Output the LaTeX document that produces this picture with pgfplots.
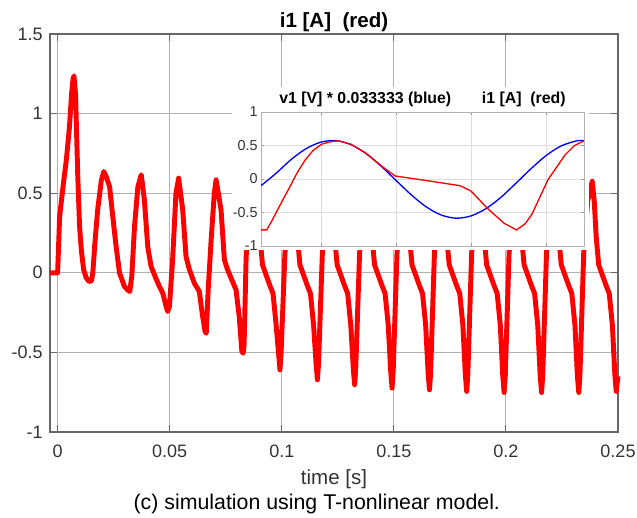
\documentclass[border=0pt]{standalone}
\usepackage{fontspec}
\setmainfont{Liberation Sans}
\usepackage{pgfplots}
\pgfplotsset{compat=1.18}
\definecolor{mred}{RGB}{255,0,0}
\definecolor{mblue}{RGB}{0,0,255}
\begin{document}
\begin{tikzpicture}
\useasboundingbox (0,0) rectangle (477.75pt,388.5pt);
\begin{axis}[
  at={(37.5pt,64.5pt)}, anchor=south west,
  scale only axis, width=426pt, height=298.5pt,
  xmin=-0.0034, xmax=0.25, ymin=-1, ymax=1.5,
  xtick={0,0.05,0.1,0.15,0.2,0.25}, xticklabels={0,0.05,0.1,0.15,0.2,0.25},
  ytick={-1,-0.5,0,0.5,1,1.5}, yticklabels={-1,-0.5,0,0.5,1,1.5},
  grid=major, major grid style={black!30, line width=0.8pt},
  axis line style={black!60, line width=0.8pt},
  tick style={black!60, line width=0.8pt}, tick align=inside, major tick length=5pt,
  ticklabel style={font=\fontsize{13.5}{16}\selectfont, text=black!80, inner sep=0pt},
  xticklabel style={anchor=base, yshift=-19.5pt},
  yticklabel style={anchor=east, xshift=-5.25pt},
  every axis title shift=0pt,
  title={i1 [A]\ \ (red)},
  title style={at={(axis description cs:0.5,1)}, anchor=base, yshift=5pt, inner sep=0pt, font=\bfseries\fontsize{15.4}{18}\selectfont},
  xlabel={time [s]},
  xlabel style={at={(axis description cs:0.5,0)}, anchor=base, yshift=-39.75pt, inner sep=0pt, font=\fontsize{15.4}{18}\selectfont, text=black!80},
  clip=false,
]
\addplot[mred, line width=3.7pt, line join=round] coordinates {
(-0.0034,0) (0.0000,0) (0.0009,0.354) (0.0024,0.54) (0.0039,0.71) (0.0053,0.92) (0.0062,1.12) (0.0069,1.22) (0.0073,1.237)
(0.0080,1.12) (0.0090,0.60) (0.0098,0.29) (0.0106,0.14) (0.0116,0.02) (0.0127,-0.03) (0.0140,-0.055) (0.0151,-0.05)
(0.0157,0.0) (0.0167,0.2) (0.0179,0.40) (0.0195,0.58) (0.0206,0.636)
(0.0218,0.60) (0.0232,0.54) (0.0246,0.354) (0.0261,0.165) (0.0276,0.0) (0.0298,-0.086) (0.0314,-0.11) (0.0322,-0.117)
(0.0331,-0.02) (0.0343,0.29) (0.0358,0.54) (0.0373,0.616)
(0.0387,0.46) (0.0402,0.165) (0.0417,0.04) (0.0432,-0.013) (0.0454,-0.086) (0.0469,-0.128) (0.0484,-0.21) (0.0491,-0.243)
(0.0499,-0.21) (0.0513,0.08) (0.0528,0.5) (0.0540,0.595)
(0.0558,0.396) (0.0573,0.1) (0.0588,0.02) (0.0610,-0.065) (0.0632,-0.117) (0.0647,-0.274) (0.0658,-0.37) (0.0663,-0.38)
(0.0672,-0.10) (0.0684,0.187) (0.0699,0.5) (0.0707,0.584)
(0.0729,0.396) (0.0744,0.082) (0.0758,0.02) (0.0796,-0.107) (0.0810,-0.274) (0.0822,-0.494) (0.0828,-0.505)
(0.0832,-0.45) (0.0841,0.1) (0.0855,0.4)
(0.0885,0.575) (0.0894,0.45) (0.0903,0.22) (0.0914,0.05) (0.0947,-0.08) (0.0961,-0.13) (0.0975,-0.33) (0.0986,-0.51) (0.0992,-0.61) (0.0997,-0.50) (0.1014,0.12) (0.1032,0.45)
(0.1052,0.575) (0.1061,0.45) (0.1070,0.22) (0.1081,0.05) (0.1114,-0.08) (0.1128,-0.13) (0.1142,-0.33) (0.1153,-0.57) (0.1159,-0.672) (0.1164,-0.57) (0.1181,0.12) (0.1199,0.45)
(0.1218,0.575) (0.1227,0.45) (0.1236,0.22) (0.1247,0.05) (0.1280,-0.08) (0.1294,-0.13) (0.1308,-0.33) (0.1319,-0.60) (0.1325,-0.703) (0.1330,-0.60) (0.1347,0.12) (0.1365,0.45)
(0.1385,0.575) (0.1394,0.45) (0.1403,0.22) (0.1414,0.05) (0.1447,-0.08) (0.1461,-0.13) (0.1475,-0.33) (0.1486,-0.62) (0.1492,-0.724) (0.1497,-0.62) (0.1514,0.12) (0.1532,0.45)
(0.1552,0.575) (0.1561,0.45) (0.1570,0.22) (0.1581,0.05) (0.1614,-0.08) (0.1628,-0.13) (0.1642,-0.33) (0.1653,-0.63) (0.1659,-0.735) (0.1664,-0.63) (0.1681,0.12) (0.1699,0.45)
(0.1718,0.575) (0.1727,0.45) (0.1736,0.22) (0.1747,0.05) (0.1780,-0.08) (0.1794,-0.13) (0.1808,-0.33) (0.1819,-0.64) (0.1825,-0.745) (0.1830,-0.64) (0.1847,0.12) (0.1865,0.45)
(0.1885,0.575) (0.1894,0.45) (0.1903,0.22) (0.1914,0.05) (0.1947,-0.08) (0.1961,-0.13) (0.1975,-0.33) (0.1986,-0.65) (0.1992,-0.752) (0.1997,-0.65) (0.2014,0.12) (0.2032,0.45)
(0.2052,0.575) (0.2061,0.45) (0.2070,0.22) (0.2081,0.05) (0.2114,-0.08) (0.2128,-0.13) (0.2142,-0.33) (0.2153,-0.65) (0.2159,-0.752) (0.2164,-0.65) (0.2181,0.12) (0.2199,0.45)
(0.2218,0.575) (0.2227,0.45) (0.2236,0.22) (0.2247,0.05) (0.2280,-0.08) (0.2294,-0.13) (0.2308,-0.33) (0.2319,-0.65) (0.2325,-0.752) (0.2330,-0.65) (0.2347,0.12) (0.2365,0.45)
(0.2385,0.575) (0.2394,0.45) (0.2403,0.22) (0.2414,0.05) (0.2447,-0.08) (0.2461,-0.13) (0.2475,-0.33) (0.2486,-0.64) (0.2492,-0.745) (0.2500,-0.65)
};
\end{axis}
\fill[white] (174pt,201pt) rectangle (441.75pt,323.25pt);
\begin{axis}[
  at={(195.75pt,204pt)}, anchor=south west,
  scale only axis, width=242.25pt, height=100.5pt,
  xmin=0, xmax=21.53, ymin=-1, ymax=1,
  xtick={4,9,14,19}, xticklabels={},
  ytick={-1,-0.5,0,0.5,1}, yticklabels={-1,-0.5,0,0.5,1},
  grid=major, major grid style={black!13, line width=0.7pt},
  axis line style={black!30, line width=0.7pt},
  tick style={black!40, line width=0.6pt}, tick align=inside, major tick length=2.5pt,
  ticklabel style={font=\fontsize{10.8}{13}\selectfont, text=black!80, inner sep=0pt},
  yticklabel style={anchor=east, xshift=-2.25pt},
  every axis title shift=0pt,
  title={v1 [V] * 0.033333 (blue)\hspace{23pt}i1 [A]\ \ (red)},
  title style={at={(axis description cs:0.5,1)}, anchor=base, yshift=6pt, inner sep=0pt, font=\bfseries\fontsize{11.9}{14}\selectfont},
]
\addplot[mblue, line width=1pt, smooth] coordinates {
(0,-0.10) (1,0.084) (2,0.289) (3,0.452) (4,0.551) (5,0.573) (6,0.513) (7,0.380) (8,0.193) (9,-0.021)
(10,-0.233) (11,-0.414) (12,-0.537) (13,-0.585) (14,-0.551) (15,-0.442) (16,-0.272) (17,-0.062)
(18,0.154) (19,0.349) (20,0.493) (21,0.567) (21.53,0.575)
};
\addplot[mred, line width=1pt] coordinates {
(0,-0.76) (0.38,-0.76) (0.71,-0.63) (1.27,-0.39) (1.82,-0.16) (2.38,0.08) (2.93,0.28) (3.49,0.43) (4.05,0.52)
(4.6,0.555) (5.15,0.57) (6,0.518) (7,0.385) (8,0.2) (8.93,0.045) (10.93,-0.02) (13.27,-0.10) (14.0,-0.18)
(15.1,-0.44) (16.2,-0.66) (17.03,-0.76) (17.6,-0.67) (18.05,-0.53) (19.13,-0.01) (20.27,0.36) (20.9,0.50) (21.53,0.57)
};
\end{axis}
\node[anchor=base, font=\fontsize{16}{19}\selectfont, inner sep=0pt] at (237.6pt,6pt) {(c) simulation using T-nonlinear model.};
\end{tikzpicture}
\end{document}
